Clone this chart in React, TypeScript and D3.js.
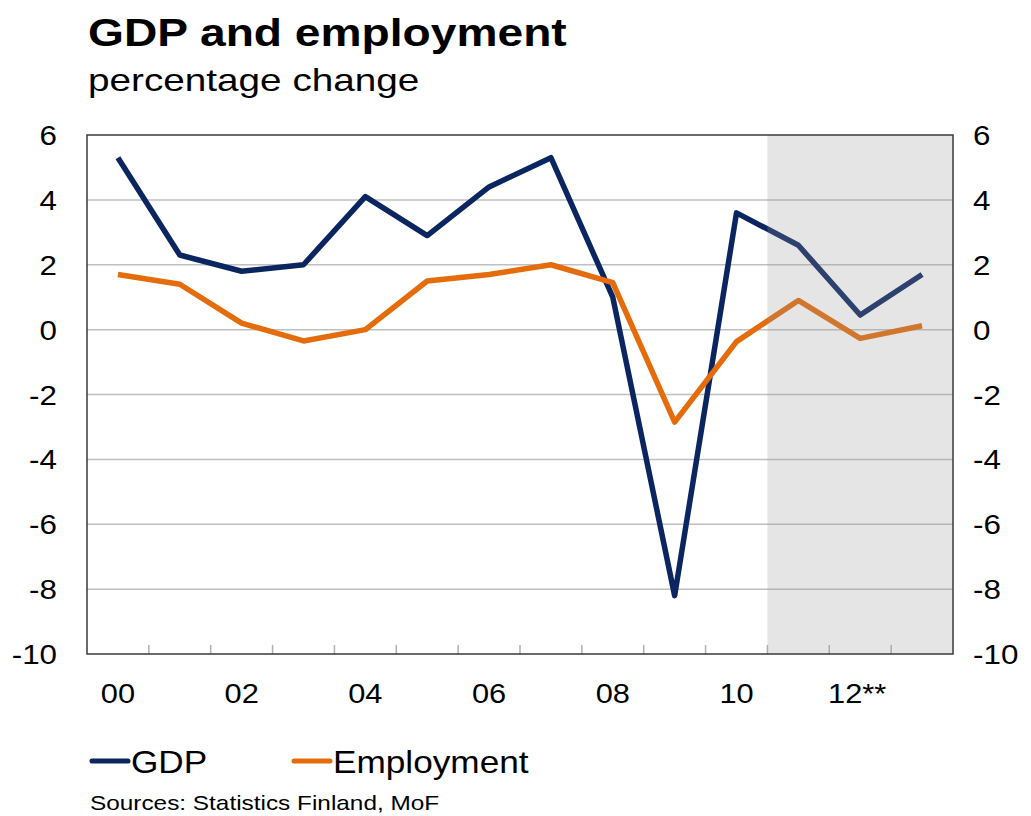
import React from "react";
import * as d3 from "d3";

const years = ["2000","2001","2002","2003","2004","2005","2006","2007","2008","2009","2010","2011","2012","2013"];
const xTickLabels = ["00","","02","","04","","06","","08","","10","","12**",""];
const gdp = [5.3, 2.3, 1.8, 2.0, 4.1, 2.9, 4.4, 5.3, 1.0, -8.2, 3.6, 2.6, 0.45, 1.7];
const employment = [1.7, 1.4, 0.2, -0.35, 0.0, 1.5, 1.7, 2.0, 1.45, -2.85, -0.37, 0.9, -0.27, 0.12];
const yTicks = [6, 4, 2, 0, -2, -4, -6, -8, -10];
const forecastStart = "2011";

const W = 1031, H = 816;
const M = { left: 87, right: 953, top: 135, bottom: 654 };
const FONT = "'Liberation Sans', Arial, Helvetica, sans-serif";
const NAVY = "#0b2561";
const ORANGE = "#e46c0a";

function T({ x, y, size, sx = 1, anchor = "start", weight = "normal", children }: any) {
  return (
    <text
      transform={`translate(${x},${y}) scale(${sx},1)`}
      fontFamily={FONT}
      fontSize={size}
      fontWeight={weight}
      textAnchor={anchor}
      fill="#000"
    >
      {children}
    </text>
  );
}

export default function App() {
  const x = d3.scaleBand<string>().domain(years).range([M.left, M.right]).padding(0);
  const y = d3.scaleLinear().domain([-10, 6]).range([M.bottom, M.top]);
  const cx = (d: string) => (x(d) as number) + x.bandwidth() / 2;
  const line = d3
    .line<number>()
    .x((_, i) => cx(years[i]))
    .y((v) => y(v));

  const shadeX = x(forecastStart) as number;

  return (
    <svg width={W} height={H} style={{ position: "absolute", left: 0, top: 0, background: "#fff" }}>
      <rect x={0} y={0} width={W} height={H} fill="#fff" />
      {/* title */}
      <T x={88} y={46} size={38} sx={1.215} weight="bold">GDP and employment</T>
      <T x={88} y={91} size={32} sx={1.21}>percentage change</T>

      {/* gridlines */}
      {yTicks
        .filter((t) => t !== 6 && t !== -10)
        .map((t) => (
          <line key={t} x1={M.left} x2={M.right} y1={y(t)} y2={y(t)} stroke="#bfbfbf" strokeWidth={1.5} />
        ))}

      {/* bottom inner ticks at category boundaries */}
      {years.slice(1).map((yr) => (
        <line
          key={yr}
          x1={x(yr) as number}
          x2={x(yr) as number}
          y1={M.bottom}
          y2={M.bottom - 9}
          stroke="#b0b0b0"
          strokeWidth={1.5}
        />
      ))}

      {/* series */}
      <path d={line(gdp) as string} fill="none" stroke={NAVY} strokeWidth={5.5} strokeLinejoin="round" />
      <path d={line(employment) as string} fill="none" stroke={ORANGE} strokeWidth={5.5} strokeLinejoin="round" />

      {/* forecast shading overlay */}
      <rect
        x={shadeX}
        y={M.top}
        width={M.right - shadeX}
        height={M.bottom - M.top}
        fill="#989898"
        fillOpacity={0.25}
      />

      {/* frame */}
      <rect
        x={M.left}
        y={M.top}
        width={M.right - M.left}
        height={M.bottom - M.top}
        fill="none"
        stroke="#3a3a3a"
        strokeWidth={1.5}
      />

      {/* y labels */}
      {yTicks.map((t) => (
        <g key={t}>
          <T x={57} y={y(t) + 10} size={28} sx={1.12} anchor="end">{String(t)}</T>
          <T x={973} y={y(t) + 10} size={28} sx={1.12}>{String(t)}</T>
        </g>
      ))}

      {/* x labels */}
      {years.map((yr, i) =>
        xTickLabels[i] ? (
          <T key={yr} x={cx(yr) - (xTickLabels[i].length > 2 ? 3 : 0)} y={703} size={28} sx={1.1} anchor="middle">
            {xTickLabels[i]}
          </T>
        ) : null
      )}

      {/* legend */}
      <line x1={92} x2={128} y1={761} y2={761} stroke={NAVY} strokeWidth={5} strokeLinecap="round" />
      <T x={131} y={773} size={32} sx={1.1}>GDP</T>
      <line x1={294} x2={330} y1={761} y2={761} stroke={ORANGE} strokeWidth={5} strokeLinecap="round" />
      <T x={333} y={773} size={32} sx={1.1}>Employment</T>

      <T x={90} y={810} size={21} sx={1.16}>Sources: Statistics Finland, MoF</T>
    </svg>
  );
}
